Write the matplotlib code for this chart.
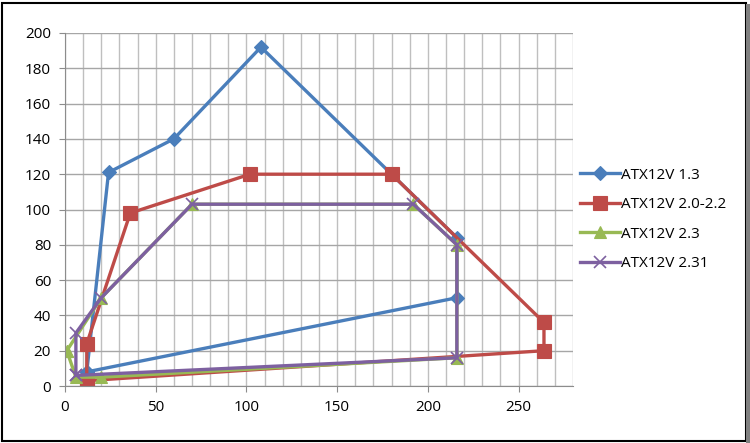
import matplotlib
matplotlib.use("Agg")
import matplotlib.pyplot as plt
from matplotlib.patches import Rectangle
from matplotlib.ticker import MultipleLocator

plt.rcParams['font.family'] = ['Open Sans', 'DejaVu Sans']

labels = ["ATX12V 1.3", "ATX12V 2.0-2.2", "ATX12V 2.3", "ATX12V 2.31"]
blue_x = [12, 24, 60, 108, 216, 216, 12]
blue_y = [8, 121, 140, 192, 84, 50, 8]
red_x = [12, 12, 36, 102, 180, 264, 264, 12]
red_y = [3, 24, 98, 120, 120, 36, 20, 3]
green_x = [1, 6, 20, 216, 216, 192, 70, 20, 1]
green_y = [20, 5, 5, 16, 80, 103, 103, 50, 20]
purple_x = [6, 6, 20, 70, 192, 216, 216, 6]
purple_y = [6, 30, 50, 103, 103, 80, 16, 6]

fig = plt.figure(figsize=(7.5, 4.43), dpi=100)
ax = fig.add_axes([65/750, 1-386/443, (573-65)/750, (386-33)/443])

series = [
    (blue_x, blue_y, '#4A7EBB', 'D', 7),
    (red_x, red_y, '#BE4B48', 's', 10.5),
    (green_x, green_y, '#98B954', '^', 9),
    (purple_x, purple_y, '#7D60A0', 'x', 8),
]
for (xs, ys, c, m, ms), lab in zip(series, labels):
    ax.plot(xs, ys, color=c, lw=2.4, marker=m, markersize=ms,
            markeredgewidth=1.2 if m == 'x' else 0.8,
            markeredgecolor=c, markerfacecolor=c, label=lab)

ax.set_xlim(0, 280)
ax.set_ylim(0, 200)
ax.xaxis.set_major_locator(MultipleLocator(50))
ax.xaxis.set_minor_locator(MultipleLocator(10))
ax.yaxis.set_major_locator(MultipleLocator(20))
ax.grid(True, which='both', axis='x', color='#BFBFBF', lw=1)
ax.grid(True, which='major', axis='y', color='#A6A6A6', lw=1)
ax.set_axisbelow(True)
for s in ['top', 'right']:
    ax.spines[s].set_visible(False)
for s in ['left', 'bottom']:
    ax.spines[s].set_color('#8C8C8C')
ax.tick_params(axis='both', which='major', length=4, color='#8C8C8C',
               labelsize=11, pad=6)
ax.tick_params(axis='x', which='minor', length=0)

leg = fig.legend(loc='center left', bbox_to_anchor=(0.755, 0.505),
                 frameon=False, fontsize=11, handlelength=2.6,
                 labelspacing=0.95, handletextpad=0.1)

fig.patches.append(Rectangle((0.002, 0.004), 0.992, 0.99, transform=fig.transFigure,
                             fill=False, edgecolor='black', lw=1.5))
fig.patches.append(Rectangle((0.994, 0.0), 0.006, 0.99, transform=fig.transFigure,
                             facecolor='#808080', edgecolor='none'))

fig.savefig("out.png", dpi=100)
